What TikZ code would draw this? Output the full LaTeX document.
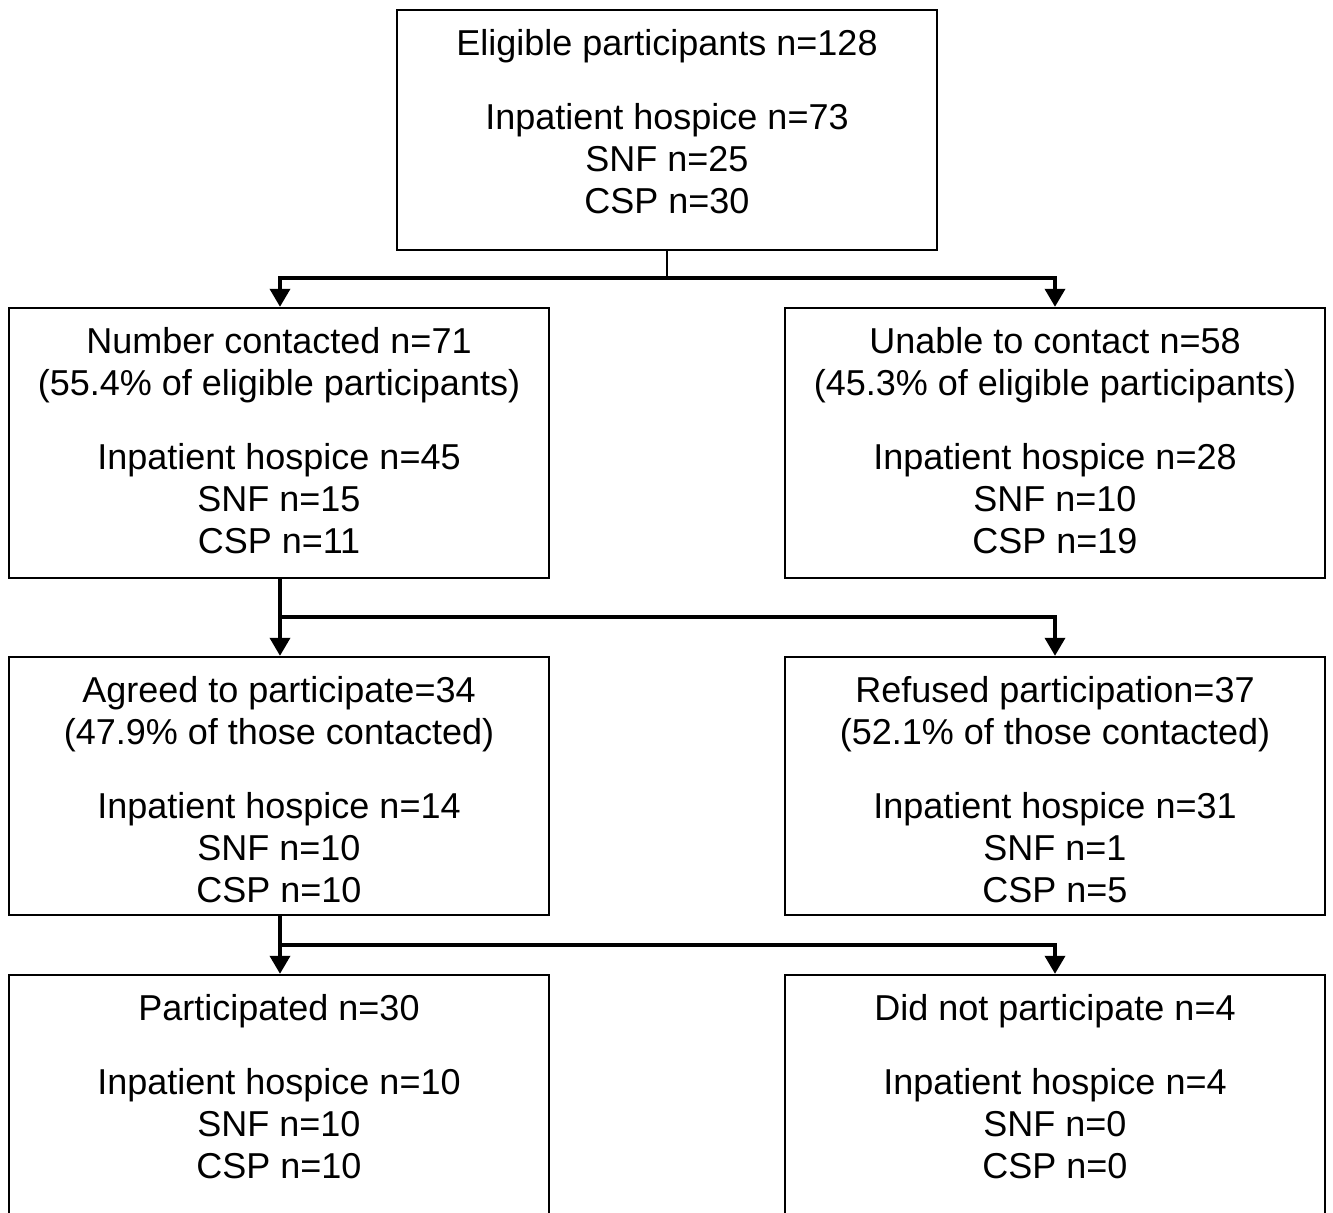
\documentclass[tikz,border=0pt]{standalone}
\usepackage{fontspec}
\setmainfont{Liberation Sans}
\usetikzlibrary{arrows.meta}

\tikzset{
    box/.style={draw, line width=1.2pt, minimum width=270pt, inner sep=0pt},
    txt/.style={anchor=north, align=center, inner sep=0pt, font=\fontsize{18}{21}\selectfont},
    flow/.style={line width=1.8pt, -{Triangle[width=10pt,length=9pt]}}
}

\begin{document}
\begin{tikzpicture}[x=0.5pt,y=-0.5pt]
            \useasboundingbox (0,0) rectangle (1333,1212);
            \node[box, minimum height=120pt] (elig) at (667,130) {};
            \node[box, minimum height=135pt] (cont) at (279,443) {};
            \node[box, minimum height=135pt] (nocont) at (1055,443) {};
            \node[box, minimum height=129pt] (agree) at (279,786) {};
            \node[box, minimum height=129pt] (refuse) at (1055,786) {};
            \node[box, minimum height=119.5pt] (part) at (279,1094.5) {};
            \node[box, minimum height=119.5pt] (nopart) at (1055,1094.5) {};
            \node[txt] (eligtxt) at ([yshift=-10pt]elig.north) {Eligible participants n=128\\[16pt] Inpatient hospice n=73\\ SNF n=25\\ CSP n=30};
            \node[txt] (conttxt) at ([yshift=-10pt]cont.north) {Number contacted n=71\\ (55.4\% of eligible participants)\\[16pt] Inpatient hospice n=45\\ SNF n=15\\ CSP n=11};
            \node[txt] (noconttxt) at ([yshift=-10pt]nocont.north) {Unable to contact n=58\\ (45.3\% of eligible participants)\\[16pt] Inpatient hospice n=28\\ SNF n=10\\ CSP n=19};
            \node[txt] (agreetxt) at ([yshift=-10pt]agree.north) {Agreed to participate=34\\ (47.9\% of those contacted)\\[16pt] Inpatient hospice n=14\\ SNF n=10\\ CSP n=10};
            \node[txt] (refusetxt) at ([yshift=-10pt]refuse.north) {Refused participation=37\\ (52.1\% of those contacted)\\[16pt] Inpatient hospice n=31\\ SNF n=1\\ CSP n=5};
            \node[txt] (parttxt) at ([yshift=-10pt]part.north) {Participated n=30\\[16pt] Inpatient hospice n=10\\ SNF n=10\\ CSP n=10};
            \node[txt] (noparttxt) at ([yshift=-10pt]nopart.north) {Did not participate n=4\\[16pt] Inpatient hospice n=4\\ SNF n=0\\ CSP n=0};
            \coordinate (j1) at (667,278);
            \coordinate (j2) at (280,617);
            \coordinate (j3) at (280,945);
            \draw[line width=.6pt] (elig.south) -- (j1);
            \draw[flow] (j1) -| ([xshift=.5pt]cont.north);
            \draw[flow] (j1) -| (nocont.north);
            \draw[flow] ([xshift=.5pt]cont.south) -- ([xshift=.5pt]agree.north);
            \draw[flow] (j2) -| (refuse.north);
            \draw[flow] ([xshift=.5pt]agree.south) -- ([xshift=.5pt]part.north);
            \draw[flow] (j3) -| (nopart.north);
        \end{tikzpicture}
\end{document}
